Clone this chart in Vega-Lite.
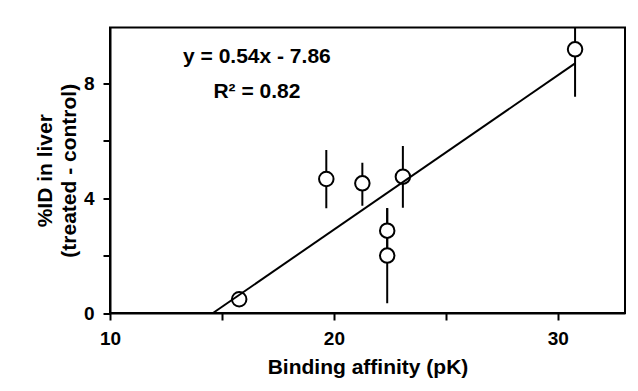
{
  "$schema": "https://vega.github.io/schema/vega-lite/v6.json",
  "width": 515,
  "height": 285.5,
  "autosize": {"type": "none"},
  "padding": {"left": 110, "top": 27.5, "right": 13, "bottom": 78},
  "background": "white",
  "datasets": {
    "pts": [
      {"pk": 15.77, "id": 0.48, "lo": 0.48, "hi": 0.48},
      {"pk": 19.66, "id": 4.67, "lo": 3.65, "hi": 5.68},
      {"pk": 21.27, "id": 4.52, "lo": 3.74, "hi": 5.24},
      {"pk": 22.38, "id": 2.87, "lo": 2.09, "hi": 3.65},
      {"pk": 22.38, "id": 2.0, "lo": 0.34, "hi": 3.66},
      {"pk": 23.08, "id": 4.75, "lo": 3.67, "hi": 5.82},
      {"pk": 30.77, "id": 9.19, "lo": 7.54, "hi": 10.84}
    ],
    "fit": [
      {"pk": 14.6, "id": 0},
      {"pk": 30.77, "id": 8.7}
    ],
    "notes": [
      {"pk": 16.56, "id": 8.7, "label": "y = 0.54x - 7.86"},
      {"pk": 16.56, "id": 7.48, "label": "R² = 0.82"}
    ]
  },
  "layer": [
    {
      "data": {"name": "pts"},
      "mark": {"type": "rule", "color": "black", "strokeWidth": 2, "clip": true},
      "encoding": {
        "x": {"field": "pk", "type": "quantitative", "scale": {"domain": [10, 33], "nice": false, "zero": false}, "title": "Binding affinity (pK)",
              "axis": {"values": [10, 15, 20, 25, 30], "labelExpr": "datum.value % 10 === 0 ? datum.label : ''", "titlePadding": 8}},
        "y": {"field": "lo", "type": "quantitative", "scale": {"domain": [0, 9.95], "nice": false}, "title": ["%ID in liver", "(treated - control)"],
              "axis": {"values": [0, 2, 4, 6, 8], "labelExpr": "datum.value % 4 === 0 ? datum.label : ''", "titlePadding": 4}},
        "y2": {"field": "hi"}
      }
    },
    {
      "data": {"name": "pts"},
      "mark": {"type": "point", "shape": "circle", "filled": false, "fill": "white", "fillOpacity": 1, "stroke": "black", "strokeWidth": 2, "opacity": 1, "size": 210},
      "encoding": {
        "x": {"field": "pk", "type": "quantitative", "scale": {"domain": [10, 33], "nice": false, "zero": false}, "title": "Binding affinity (pK)",
              "axis": {"values": [10, 15, 20, 25, 30], "labelExpr": "datum.value % 10 === 0 ? datum.label : ''", "titlePadding": 8}},
        "y": {"field": "id", "type": "quantitative", "scale": {"domain": [0, 9.95], "nice": false}, "title": ["%ID in liver", "(treated - control)"],
              "axis": {"values": [0, 2, 4, 6, 8], "labelExpr": "datum.value % 4 === 0 ? datum.label : ''", "titlePadding": 4}}
      }
    },
    {
      "data": {"name": "fit"},
      "mark": {"type": "line", "color": "black", "strokeWidth": 2},
      "encoding": {
        "x": {"field": "pk", "type": "quantitative", "scale": {"domain": [10, 33], "nice": false, "zero": false}, "title": "Binding affinity (pK)",
              "axis": {"values": [10, 15, 20, 25, 30], "labelExpr": "datum.value % 10 === 0 ? datum.label : ''", "titlePadding": 8}},
        "y": {"field": "id", "type": "quantitative", "scale": {"domain": [0, 9.95], "nice": false}, "title": ["%ID in liver", "(treated - control)"],
              "axis": {"values": [0, 2, 4, 6, 8], "labelExpr": "datum.value % 4 === 0 ? datum.label : ''", "titlePadding": 4}}
      }
    },
    {
      "data": {"name": "notes"},
      "mark": {"type": "text", "font": "Liberation Sans", "fontSize": 21, "fontWeight": "bold", "color": "black", "align": "center", "baseline": "alphabetic"},
      "encoding": {
        "x": {"field": "pk", "type": "quantitative", "scale": {"domain": [10, 33], "nice": false, "zero": false}, "title": "Binding affinity (pK)",
              "axis": {"values": [10, 15, 20, 25, 30], "labelExpr": "datum.value % 10 === 0 ? datum.label : ''", "titlePadding": 8}},
        "y": {"field": "id", "type": "quantitative", "scale": {"domain": [0, 9.95], "nice": false}, "title": ["%ID in liver", "(treated - control)"],
              "axis": {"values": [0, 2, 4, 6, 8], "labelExpr": "datum.value % 4 === 0 ? datum.label : ''", "titlePadding": 4}},
        "text": {"field": "label"}
      }
    }
  ],
  "resolve": {"scale": {"x": "shared", "y": "shared"}},
  "config": {
    "view": {"stroke": "black", "strokeWidth": 2},
    "font": "Liberation Sans",
    "axis": {
      "grid": false,
      "domainColor": "black",
      "domainWidth": 2,
      "tickColor": "black",
      "tickWidth": 2,
      "tickSize": 7,
      "labelFont": "Liberation Sans",
      "labelFontSize": 19,
      "labelFontWeight": "bold",
      "labelColor": "black",
      "labelPadding": 9,
      "labelOverlap": false,
      "labelFlush": false,
      "titleFont": "Liberation Sans",
      "titleFontSize": 21,
      "titleFontWeight": "bold",
      "titleColor": "black",
      "titleLineHeight": 24
    }
  }
}
